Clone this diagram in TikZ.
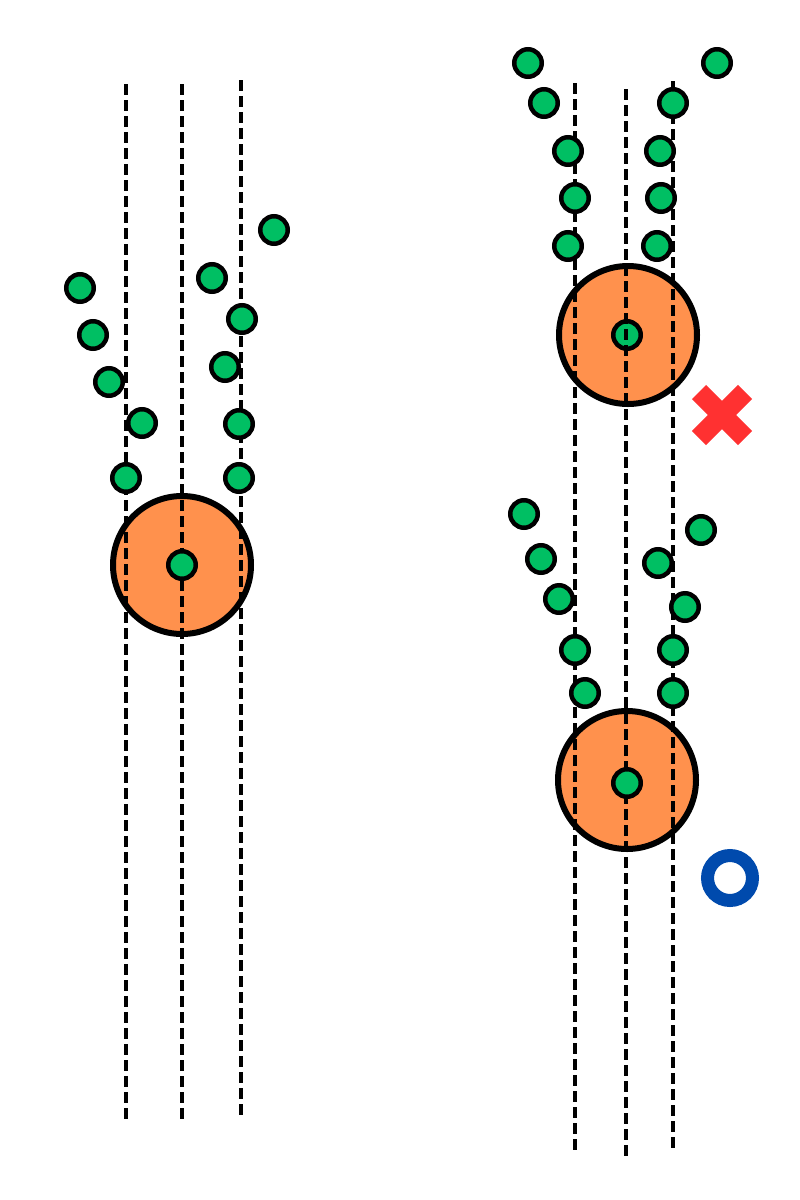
\documentclass[tikz,border=0pt]{standalone}
\usepackage{tikz}
\definecolor{pelletgreen}{HTML}{00BF63}
\definecolor{targetorange}{HTML}{FF914D}
\definecolor{missred}{HTML}{FF3131}
\definecolor{hitblue}{HTML}{004AAD}
\tikzset{
    pellet/.style={draw,circle,fill=pelletgreen,line width=4.5pt,inner sep=0pt,minimum size=27.5pt,},
    target/.style={draw,circle,fill=targetorange,line width=6pt,inner sep=0pt,minimum size=138pt,},
    lane/.style={dashed,dash pattern=on 11pt off 5pt,line width=4pt,},
    crossmark/.style={missred,line width=20pt,},
    ringmark/.style={draw=hitblue,circle,line width=13pt,inner sep=0pt,minimum size=45pt,},
}

\begin{document}
\begin{tikzpicture}[x=1pt,y=-1pt]
                \useasboundingbox (0,0) rectangle (800,1200);

                % targets
                \node[target] (targetL) at (182, 565) {};
                \node[target] (targetA) at (628, 335) {};
                \node[target] (targetB) at (627, 780) {};
                \node[pellet] (coreA) at (627, 335) {};

                % lanes
                \coordinate (laneL1top) at (126, 84);   \coordinate (laneL1bot) at (126, 1120);
                \coordinate (laneL2top) at (182, 84);   \coordinate (laneL2bot) at (182, 1120);
                \coordinate (laneL3top) at (241, 80);   \coordinate (laneL3bot) at (241, 1120);
                \coordinate (laneR1top) at (575, 83);   \coordinate (laneR1bot) at (575, 1150);
                \coordinate (laneR2top) at (626, 89);   \coordinate (laneR2bot) at (626, 1156);
                \coordinate (laneR3top) at (673, 81);   \coordinate (laneR3bot) at (673, 1148);
                \foreach \l in {L1,L2,L3,R1,R2,R3}
                    \draw[lane] (lane\l top) -- (lane\l bot);

                % pellets, left
                \node[pellet] (coreL) at (182, 565) {};
                \foreach \px/\py [count=\i] in {274/230, 80/288, 212/278, 242/319, 93/335,
                        225/367, 109/382, 142/423, 239/424, 126/478, 239/478}
                    \node[pellet] (pL\i) at (\px, \py) {};

                % pellets, right top
                \foreach \px/\py [count=\i] in {528/63, 717/63, 544/103, 673/103, 568/151,
                        660/151, 575/198, 661/198, 568/246, 657/246}
                    \node[pellet] (pA\i) at (\px, \py) {};

                % pellets, right bottom
                \node[pellet] (coreB) at (627, 783) {};
                \foreach \px/\py [count=\i] in {524/514, 701/530, 541/559, 658/563, 559/599,
                        685/607, 575/650, 673/650, 585/693, 673/693}
                    \node[pellet] (pB\i) at (\px, \py) {};

                % marks
                \coordinate (miss) at (722, 415);
                \draw[crossmark] ([shift={(-23,-23)}]miss) -- ([shift={(23,23)}]miss);
                \draw[crossmark] ([shift={(-23,23)}]miss) -- ([shift={(23,-23)}]miss);
                \node[ringmark] (hit) at (730, 878) {};
            \end{tikzpicture}
\end{document}
